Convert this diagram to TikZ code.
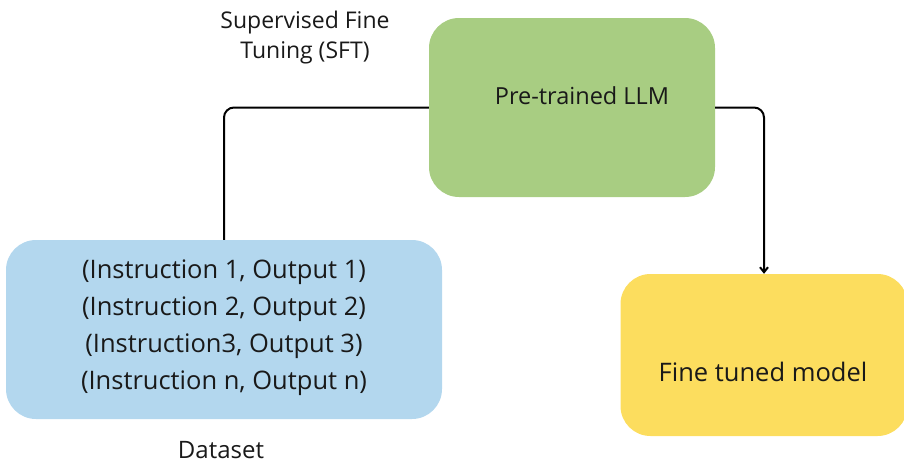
\documentclass[tikz,border=0pt]{standalone}
\usepackage{fontspec}
\setmainfont{Open Sans}
\usetikzlibrary{arrows.meta}
\definecolor{llmgreen}{HTML}{A8CD82}
\definecolor{dataBlue}{HTML}{B3D7EE}
\definecolor{modelYellow}{HTML}{FCDD5E}
\begin{document}
\begin{tikzpicture}[x=1pt,y=-1pt,
  box/.style={rounded corners=30pt, minimum width=#1, inner sep=0pt},
  label/.style={text=black!90, align=center, inner sep=0pt},
  link/.style={line width=2pt, rounded corners=10pt}]
  \useasboundingbox (0,0) rectangle (904,464);
  % boxes
  \node[box=286pt, minimum height=179pt, fill=llmgreen] (llm) at (572,107.5) {};
  \node[box=436pt, minimum height=179pt, fill=dataBlue] (data) at (224,329.5) {};
  \node[box=287pt, minimum height=162pt, fill=modelYellow] (model) at (764,355) {};
  % texts
  \node[label, font=\fontsize{23.5}{30}\selectfont] (llmtext) at (582,96) {Pre-trained LLM};
  \node[label, font=\fontsize{25.5}{37}\selectfont] (datatext) at (224,328) {(Instruction 1, Output 1)\\(Instruction 2, Output 2)\\(Instruction3, Output 3)\\(Instruction n, Output n)};
  \node[label, font=\fontsize{25.5}{30}\selectfont] (modeltext) at (763,372) {Fine tuned model};
  \node[label, font=\fontsize{23}{30}\selectfont] (sft) at (305,38) {Supervised Fine\\Tuning (SFT)};
  \node[label, font=\fontsize{24}{30}\selectfont] (dataset) at (221,450) {Dataset};
  % connectors
  \draw[link] (llm.west) -| (data.north);
  \draw[link, -{Straight Barb[length=5pt,width=8pt]}] (llm.east) -| (model.north);
\end{tikzpicture}
\end{document}
